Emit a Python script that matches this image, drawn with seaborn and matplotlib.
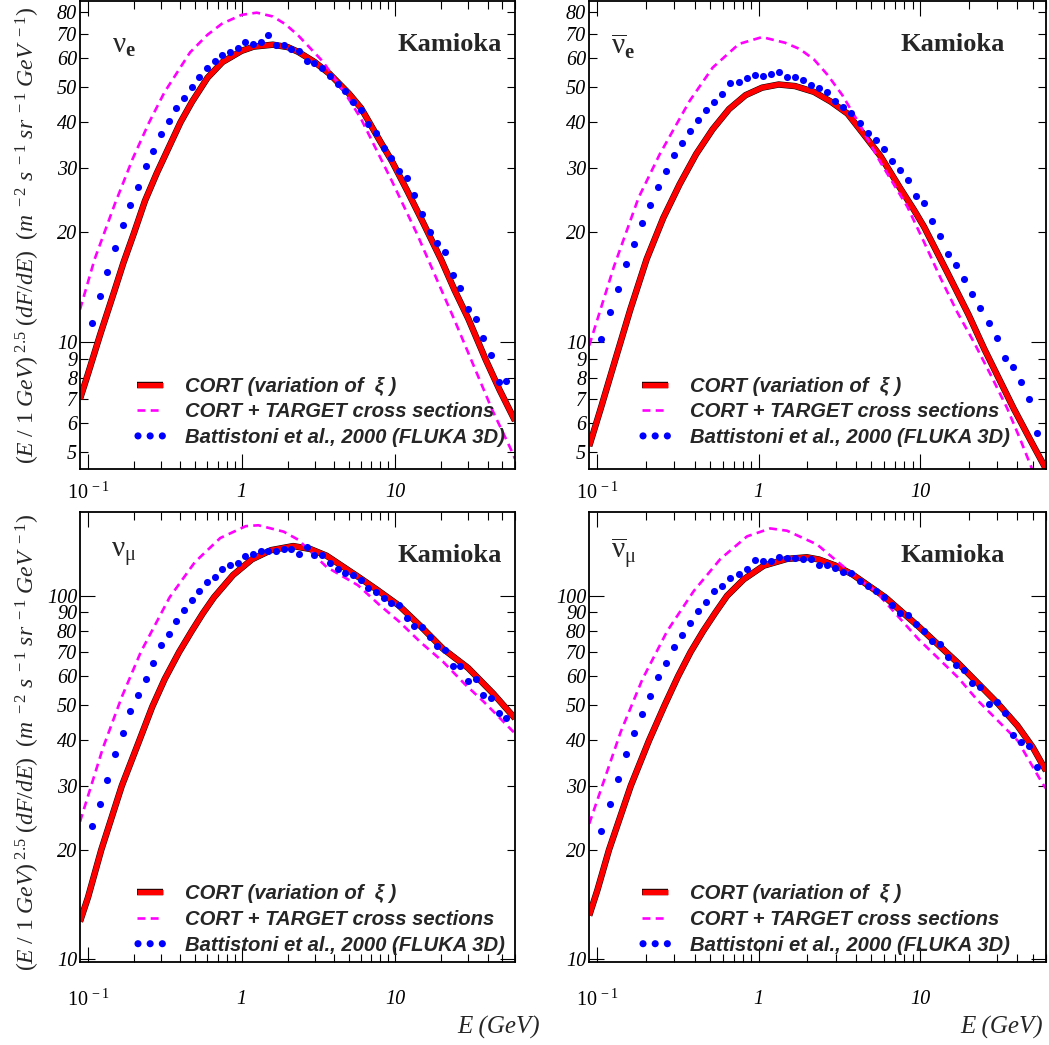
import matplotlib
matplotlib.use("Agg")
import matplotlib.pyplot as plt
import matplotlib.patheffects as pe
from matplotlib.collections import PathCollection
from matplotlib.legend_handler import HandlerPathCollection
import seaborn as sns

# FLUKA 3D histogram: bin centres in GeV (20 bins per decade)
fluka_e = [0.1059, 0.1189, 0.1334, 0.1496, 0.1679, 0.1884, 0.2113, 0.2371, 0.2661, 0.2985,
           0.3350, 0.3758, 0.4217, 0.4732, 0.5309, 0.5957, 0.6683, 0.7499, 0.8414, 0.9441,
           1.059, 1.189, 1.334, 1.496, 1.679, 1.884, 2.113, 2.371, 2.661, 2.985,
           3.350, 3.758, 4.217, 4.732, 5.309, 5.957, 6.683, 7.499, 8.414, 9.441,
           10.59, 11.89, 13.34, 14.96, 16.79, 18.84, 21.13, 23.71, 26.61, 29.85,
           33.50, 37.58, 42.17, 47.32, 53.09]

# ---- nu_e ----
nue_cort_e = [0.0887, 0.1, 0.12, 0.15, 0.17, 0.2, 0.235, 0.28, 0.334, 0.4, 0.475, 0.6, 0.75, 1.0,
              1.2, 1.6, 2.0, 2.34, 3.0, 3.73, 5.0, 6.0, 8.0, 9.55, 12.0, 15.2, 20.0, 24.4, 30.0,
              39.0, 48.0, 60.4]
nue_cort_y = [7.0, 8.2, 10.5, 14.0, 16.5, 20.0, 24.4, 29.0, 34.0, 40.0, 45.5, 53.0, 58.5, 62.8,
              64.5, 65.3, 64.3, 62.4, 58.5, 54.4, 48.0, 43.8, 35.5, 31.3, 26.0, 21.3, 16.8, 13.9,
              11.6, 8.95, 7.4, 6.1]
nue_target_e = [0.0887, 0.1105, 0.15, 0.196, 0.25, 0.315, 0.462, 0.6, 0.744, 1.0, 1.257, 1.6, 1.93,
                2.34, 3.4, 4.95, 5.97, 9.55, 13.9, 24.4, 42.8, 56.7, 60.4]
nue_target_y = [12.3, 16.9, 24.0, 31.9, 40.0, 48.4, 62.2, 69.5, 74.5, 78.8, 79.9, 78.0, 74.3,
                69.2, 58.6, 46.6, 41.1, 27.6, 19.8, 11.5, 6.55, 5.1, 4.8]
nue_fluka_y = [11.3, 13.4, 15.6, 18.1, 21.0, 23.8, 26.6, 30.3, 33.4, 37.1,
               40.3, 43.9, 46.8, 50.1, 53.1, 56.3, 58.8, 61.2, 62.2, 63.9,
               66.6, 65.5, 66.4, 69.5, 65.0, 65.0, 63.4, 62.7, 58.9, 58.1,
               56.2, 53.7, 51.0, 48.7, 45.6, 43.3, 39.6, 37.4, 34.0, 32.0,
               29.4, 28.1, 25.3, 22.4, 20.0, 18.7, 17.7, 15.3, 14.1, 12.3,
               11.6, 10.3, 9.24, 7.77, 7.85]

# ---- anti nu_e ----
anue_cort_e = [0.089, 0.105, 0.1265, 0.16, 0.202, 0.256, 0.3236, 0.41, 0.518, 0.655, 0.829, 1.05,
               1.33, 1.68, 2.2, 2.8, 3.55, 4.5, 5.7, 7.5, 9.2, 10.6, 14.7, 20.0, 25.0, 38.0,
               50.0, 60.4]
anue_cort_y = [5.2, 6.6, 8.7, 12.3, 16.9, 21.9, 27.1, 32.8, 38.3, 43.5, 47.5, 49.8,
               50.8, 50.3, 48.5, 45.6, 42.3, 37.0, 32.3, 26.5, 23.0, 20.7, 15.6, 11.9, 9.6, 6.6,
               5.25, 4.5]
anue_target_e = [0.089, 0.1265, 0.18, 0.244, 0.373, 0.518, 0.754, 1.05, 1.456, 1.8, 2.2, 2.67,
                 3.3, 4.1, 5.71, 8.35, 10.6, 13.4, 17.0, 21.6, 27.4, 34.7, 42.0, 49.5, 53.0]
anue_target_y = [9.8, 16.1, 24.9, 32.8, 45.8, 56.5, 65.6, 68.5, 66.1, 63.5, 59.5, 54.0,
                 47.5, 40.4, 31.0, 23.5, 18.8, 15.0, 12.1, 10.0, 8.15, 6.6, 5.4, 4.5, 4.2]
anue_fluka_y = [10.2, 12.1, 14.0, 16.4, 18.6, 21.2, 23.8, 26.7, 29.4, 32.6,
                35.1, 37.9, 40.5, 43.2, 45.5, 47.9, 51.3, 51.6, 52.8, 53.8,
                53.7, 54.2, 55.1, 53.1, 53.2, 52.2, 50.5, 49.8, 48.6, 45.8,
                44.0, 42.5, 39.9, 37.5, 35.9, 33.9, 31.4, 29.7, 27.9, 25.1,
                24.1, 21.5, 19.5, 17.5, 16.3, 14.9, 13.6, 12.4, 11.3, 10.3,
                9.04, 8.58, 7.78, 6.99, 5.65]

# ---- nu_mu ----
numu_cort_e = [0.0887, 0.1, 0.122, 0.166, 0.216, 0.262, 0.316, 0.392, 0.474, 0.56, 0.661, 0.88,
               1.17, 1.556, 2.17, 2.8, 3.58, 5.73, 7.6, 10.6, 14.7, 20.5, 29.9, 43.6, 60.4]
numu_cort_y = [12.7, 14.8, 20.0, 30.0, 40.0, 49.5, 59.0, 70.0, 80.0, 89.5, 99.0, 114.0,
               126.0, 133.5, 137.0, 134.5, 128.9, 112.9, 104.0, 94.0, 82.4, 71.5, 63.3, 53.8, 46.0]
numu_target_e = [0.0887, 0.125, 0.166, 0.221, 0.34, 0.497, 0.727, 1.064, 1.287, 1.88, 2.34, 3.58,
                 5.73, 7.97, 10.6, 14.7, 20.5, 28.5, 37.8, 43.6, 60.4]
numu_target_y = [23.9, 38.1, 52.7, 70.1, 99.0, 123.8, 144.2, 155.4, 156.3, 150.1, 142.6, 120.0,
                 106.9, 94.1, 85.0, 74.4, 65.9, 57.1, 51.1, 48.1, 41.8]
numu_fluka_y = [23.2, 26.8, 31.1, 36.6, 41.9, 48.1, 53.5, 59.0, 65.5, 73.0,
                78.7, 85.2, 91.5, 97.2, 103.1, 109.1, 112.5, 118.4, 121.3, 123.3,
                128.4, 130.2, 132.4, 132.4, 133.2, 134.8, 134.1, 130.2, 136.4, 129.7,
                129.7, 123.3, 118.8, 115.7, 114.0, 110.2, 105.1, 102.4, 98.9, 95.6,
                94.4, 87.1, 82.8, 82.1, 77.2, 72.9, 71.0, 63.9, 64.2, 58.1,
                58.9, 53.5, 52.5, 47.7, 46.0]

# ---- anti nu_mu ----
anumu_cort_e = [0.089, 0.1, 0.118, 0.161, 0.209, 0.261, 0.316, 0.378, 0.453, 0.54, 0.637, 0.808,
                1.074, 1.497, 1.99, 2.37, 3.0, 3.8, 6.1, 9.77, 17.2, 30.3, 40.2, 50.0, 60.4]
anumu_cort_y = [13.2, 15.5, 20.0, 30.0, 40.0, 50.0, 60.0, 70.0, 80.0, 90.0, 100.0, 111.0,
                121.0, 126.3, 127.6, 125.8, 121.0, 114.6, 99.0, 82.4, 65.3, 50.6, 43.9, 38.3, 33.0]
anumu_target_e = [0.089, 0.1394, 0.19, 0.271, 0.396, 0.579, 0.847, 1.18, 1.497, 2.3, 4.08, 5.29,
                  9.77, 17.2, 22.8, 40.2, 57.3, 60.4]
anumu_target_y = [23.6, 42.2, 58.9, 80.0, 103.1, 126.3, 145.7, 153.2, 151.0, 138.4, 111.8, 103.1,
                  76.0, 59.6, 51.5, 40.0, 30.5, 29.5]
anumu_fluka_y = [22.6, 26.8, 31.3, 36.7, 41.8, 47.4, 53.0, 59.6, 65.5, 72.4,
                 78.0, 84.1, 90.7, 96.2, 103.1, 106.3, 111.6, 114.8, 118.4, 125.6,
                 124.3, 124.3, 128.1, 127.4, 127.4, 126.3, 126.3, 121.3, 121.8, 119.6,
                 116.0, 115.8, 110.0, 106.3, 103.1, 99.0, 94.5, 89.8, 88.4, 83.4,
                 80.1, 74.9, 73.7, 67.8, 64.6, 62.4, 57.5, 56.0, 50.5, 51.0,
                 47.6, 41.3, 39.5, 38.6, 33.9]

legend_labels = [u"CORT (variation of  \u03be )",
                 "CORT + TARGET cross sections",
                 "Battistoni et al., 2000 (FLUKA 3D)"]

sns.set_theme(style="ticks")
plt.rcParams["font.family"] = ["Liberation Serif", "DejaVu Serif"]
plt.rcParams["font.style"] = "italic"
plt.rcParams["mathtext.fontset"] = "custom"
plt.rcParams["mathtext.rm"] = "Liberation Serif:style=normal"
plt.rcParams["mathtext.it"] = "Liberation Serif:style=italic"
plt.rcParams["mathtext.bf"] = "Liberation Serif:style=normal:weight=bold"
plt.rcParams["axes.edgecolor"] = "black"
plt.rcParams["xtick.color"] = "black"
plt.rcParams["ytick.color"] = "black"

fig = plt.figure(figsize=(10.49, 10.45), dpi=100)

top_h = 468 / 1045
bot_h = 450 / 1045
panels = [
    # position, flavour label, data, y-range, text positions
    dict(pos=[80 / 1049, 1 - 469 / 1045, 435 / 1049, top_h],
         flav=r"$\mathrm{\nu}_{\mathbf{e}}$",
         cort=(nue_cort_e, nue_cort_y), target=(nue_target_e, nue_target_y), fluka=nue_fluka_y,
         ylim=(4.5, 86), kam=(0.970, 0.908), flav_xy=(0.074, 0.89), leg=(0.131, 0.047), top=True),
    dict(pos=[589 / 1049, 1 - 469 / 1045, 457 / 1049, top_h],
         flav=r"$\overline{\mathrm{\nu}}_{\mathbf{e}}$",
         cort=(anue_cort_e, anue_cort_y), target=(anue_target_e, anue_target_y), fluka=anue_fluka_y,
         ylim=(4.5, 86), kam=(0.910, 0.908), flav_xy=(0.048, 0.885), leg=(0.116, 0.047), top=True),
    dict(pos=[80 / 1049, 1 - 962 / 1045, 435 / 1049, bot_h],
         flav=r"$\mathrm{\nu}_{\mathrm{\mu}}$",
         cort=(numu_cort_e, numu_cort_y), target=(numu_target_e, numu_target_y), fluka=numu_fluka_y,
         ylim=(9.83, 170), kam=(0.970, 0.904), flav_xy=(0.072, 0.9), leg=(0.131, 0.016), top=False),
    dict(pos=[589 / 1049, 1 - 962 / 1045, 457 / 1049, bot_h],
         flav=r"$\overline{\mathrm{\nu}}_{\mathrm{\mu}}$",
         cort=(anumu_cort_e, anumu_cort_y), target=(anumu_target_e, anumu_target_y), fluka=anumu_fluka_y,
         ylim=(9.83, 170), kam=(0.910, 0.904), flav_xy=(0.048, 0.893), leg=(0.116, 0.016), top=False),
]

red_fx = [pe.Stroke(linewidth=4.6, foreground="black"), pe.Normal()]

for p in panels:
    ax = fig.add_axes(p["pos"])
    ax.set_xscale("log")
    ax.set_yscale("log")

    sns.lineplot(x=p["cort"][0], y=p["cort"][1], ax=ax, color="#ff0000", linewidth=3.9,
                 estimator=None, path_effects=red_fx, solid_capstyle="butt",
                 label=legend_labels[0])
    sns.lineplot(x=p["target"][0], y=p["target"][1], ax=ax, color="#ff00ff", linewidth=1.9,
                 estimator=None, linestyle=(0, (3.0, 2.0)), label=legend_labels[1])
    sns.scatterplot(x=fluka_e, y=p["fluka"], ax=ax, color="#0000ff", s=26, linewidth=0,
                    label=legend_labels[2], zorder=3)

    ax.set_xlim(0.0887, 60.4)
    ax.set_ylim(*p["ylim"])
    ax.set_xlabel("")
    ax.set_ylabel("")

    # ticks: all four sides, pointing in
    ax.set_xticks([0.1, 1, 10], labels=[r"$\mathit{10^{\,-1}}$", "1", "10"])
    ax.set_xticks([k * d for d in (0.1, 1, 10) for k in range(2, 10) if k * d < 60.4],
                  labels=[], minor=True)
    if p["top"]:
        ax.set_yticks([10], labels=["10"])
        minor_y = [5, 6, 7, 8, 9, 20, 30, 40, 50, 60, 70, 80]
    else:
        ax.set_yticks([10, 100], labels=["10", "100"])
        minor_y = [20, 30, 40, 50, 60, 70, 80, 90]
    ax.set_yticks(minor_y, labels=[str(v) for v in minor_y], minor=True)
    ax.tick_params(which="both", direction="in", top=True, right=True, width=0.8,
                   labelsize=14.5, colors="black")
    ax.tick_params(which="major", length=11)
    ax.tick_params(which="minor", length=5.5)
    ax.tick_params(axis="y", which="both", pad=2)
    ax.tick_params(axis="x", which="both", pad=10 if p["top"] else 20)
    for s in ax.spines.values():
        s.set_linewidth(1.3)
        s.set_color("black")

    ax.text(*p["kam"], "Kamioka", transform=ax.transAxes, ha="right", va="center",
            fontsize=19, fontweight="bold", fontstyle="normal", family="Liberation Serif")
    ax.text(*p["flav_xy"], p["flav"], transform=ax.transAxes, ha="left", va="baseline",
            fontsize=21)

    handles, labels = ax.get_legend_handles_labels()
    ax.legend(handles, labels, loc="lower left", bbox_to_anchor=p["leg"], frameon=False,
              borderpad=0, borderaxespad=0, handlelength=1.3, handletextpad=1.05,
              labelspacing=0.33, scatterpoints=3, scatteryoffsets=[0.5],
              handler_map={PathCollection: HandlerPathCollection(marker_pad=0.05)},
              prop=dict(family="Liberation Sans", weight="bold", style="italic", size=14.6))

ylab = (r"$\mathit{(E\ /\ 1\ GeV)^{\ 2.5}\ (dF/dE)\ \ (m^{\ -2}\ s^{\ -1}\ sr^{\ -1}\ GeV^{\ -1})}$")
fig.text(28 / 1049, 1 - 235 / 1045, ylab, rotation=90, ha="center", va="center", fontsize=17)
fig.text(28 / 1049, 1 - 742 / 1045, ylab, rotation=90, ha="center", va="center", fontsize=17)
fig.text(540 / 1049, 1 - 1027 / 1045, "E (GeV)", ha="right", va="center", fontsize=18)
fig.text(1043 / 1049, 1 - 1027 / 1045, "E (GeV)", ha="right", va="center", fontsize=18)

fig.savefig("out.png", dpi=100, facecolor="white")
